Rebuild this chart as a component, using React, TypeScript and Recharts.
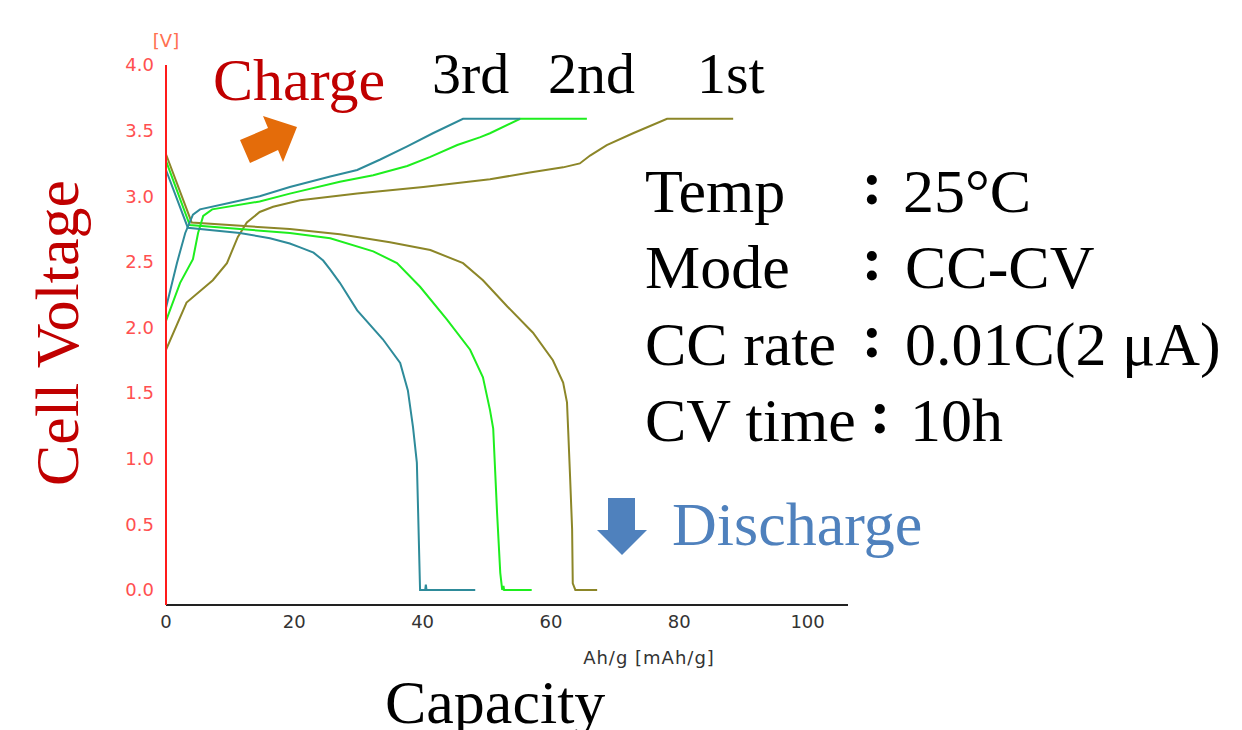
import React from 'react';
import { LineChart, Line, XAxis, YAxis } from 'recharts';

// ---- data (capacity mAh/g, voltage V) ----
const xTicks = [0, 20, 40, 60, 80, 100];
const yTicks = [0, 0.5, 1, 1.5, 2, 2.5, 3, 3.5, 4];

const charge3rd: [number, number][] = [
  [0, 2.15], [1.7, 2.49], [3.0, 2.72], [4.2, 2.86], [5.3, 2.9], [10, 2.95], [14.6, 3.0],
  [19.3, 3.07], [25.6, 3.15], [29.8, 3.2], [33.4, 3.28], [37.6, 3.38], [41.6, 3.48],
  [46.3, 3.59], [55.2, 3.59],
];
const charge2nd: [number, number][] = [
  [0, 2.05], [2.2, 2.34], [4.2, 2.52], [5.0, 2.72], [5.8, 2.85], [7.2, 2.9], [14.6, 2.96],
  [19.3, 3.02], [27.1, 3.11], [32.3, 3.16], [37.6, 3.23], [41.2, 3.3], [45.4, 3.39],
  [49.0, 3.45], [50.5, 3.48], [55.2, 3.59], [65.6, 3.59],
];
const charge1st: [number, number][] = [
  [0, 1.83], [3.2, 2.19], [7.3, 2.36], [9.5, 2.49], [11.2, 2.69], [12.6, 2.8], [14.6, 2.88],
  [16.7, 2.92], [20.9, 2.97], [29.8, 3.02], [40.1, 3.07], [50.5, 3.13], [56.7, 3.18],
  [61.9, 3.22], [64.5, 3.25], [66.1, 3.31], [68.7, 3.39], [72.8, 3.48], [78.1, 3.59], [88.4, 3.59],
];
const discharge3rd: [number, number][] = [
  [0, 3.2], [3.4, 2.76], [11.5, 2.72], [16.2, 2.68], [19.3, 2.64], [20.9, 2.61], [23.0, 2.57],
  [24.5, 2.51], [25.6, 2.44], [27.1, 2.34], [29.8, 2.13], [33.8, 1.91], [36.5, 1.73],
  [37.7, 1.52], [38.5, 1.24], [39.1, 0.97], [39.3, 0.59], [39.6, 0.0], [40.4, 0.0],
  [40.5, 0.04], [40.6, 0.0], [48.2, 0.0],
];
const discharge2nd: [number, number][] = [
  [0, 3.27], [3.7, 2.78], [11.5, 2.75], [19.3, 2.72], [25.6, 2.68], [32.3, 2.58], [36.0, 2.49],
  [39.6, 2.31], [43.8, 2.06], [47.4, 1.83], [49.4, 1.62], [50.5, 1.37], [51.0, 1.23],
  [51.3, 0.91], [51.6, 0.59], [52.1, 0.13], [52.4, 0.0], [52.6, 0.03], [52.7, 0.0], [57.0, 0.0],
];
const discharge1st: [number, number][] = [
  [0, 3.32], [4.0, 2.8], [19.3, 2.75], [27.1, 2.71], [34.9, 2.65], [41.2, 2.59], [46.3, 2.49],
  [49.4, 2.36], [53.2, 2.16], [57.2, 1.96], [60.3, 1.75], [61.9, 1.58], [62.5, 1.43],
  [62.7, 1.2], [63.0, 0.84], [63.3, 0.46], [63.4, 0.05], [63.8, 0.0], [67.2, 0.0],
];

const TEAL = '#2e8b9a';
const GREEN = '#1eee1e';
const OLIVE = '#8c8628';

const toPts = (arr: [number, number][]) => arr.map(([x, v]) => ({ x, v }));

const series = [
  { key: 'd1', data: toPts(discharge1st), color: OLIVE },
  { key: 'c1', data: toPts(charge1st), color: OLIVE },
  { key: 'd2', data: toPts(discharge2nd), color: GREEN },
  { key: 'c2', data: toPts(charge2nd), color: GREEN },
  { key: 'd3', data: toPts(discharge3rd), color: TEAL },
  { key: 'c3', data: toPts(charge3rd), color: TEAL },
];

const serif = '"Liberation Serif", "Times New Roman", serif';
const sans = '"DejaVu Sans", Verdana, sans-serif';

const infoRows = [
  { label: 'Temp', value: '25°C', y: 212, cx: 872, vx: 903 },
  { label: 'Mode', value: 'CC-CV', y: 288, cx: 872, vx: 905 },
  { label: 'CC rate', value: '0.01C(2 μA)', y: 365, cx: 872, vx: 905 },
  { label: 'CV time', value: '10h', y: 441, cx: 880, vx: 910 },
];

export default function App() {
  return (
    <div style={{ position: 'absolute', left: 0, top: 0, width: 1242, height: 730, background: '#fff' }}>
      <div style={{ position: 'absolute', left: 0, top: 0 }}>
        <LineChart width={1242} height={730} margin={{ top: 65, right: 394, bottom: 95, left: 0 }}>
          <XAxis
            dataKey="x"
            type="number"
            domain={[0, 106.3]}
            ticks={xTicks}
            allowDataOverflow
            height={30}
            tickLine={false}
            tickMargin={4}
            axisLine={{ stroke: '#222', strokeWidth: 2 }}
            tick={{ fill: '#333', fontSize: 18, fontFamily: sans }}
          />
          <YAxis
            dataKey="v"
            type="number"
            domain={[-0.115, 4.0]}
            ticks={yTicks}
            allowDataOverflow
            width={166}
            tickLine={false}
            tickMargin={6}
            tickFormatter={(v: number) => v.toFixed(1)}
            axisLine={{ stroke: '#ff1a1a', strokeWidth: 2 }}
            tick={{ fill: '#ff5050', fontSize: 18, fontFamily: sans }}
          />
          {series.map((s) => (
            <Line
              key={s.key}
              data={s.data}
              dataKey="v"
              type="linear"
              stroke={s.color}
              strokeWidth={2}
              dot={false}
              isAnimationActive={false}
            />
          ))}
        </LineChart>
      </div>
      <svg
        width={1242}
        height={730}
        style={{ position: 'absolute', left: 0, top: 0, pointerEvents: 'none' }}
      >
        <text x={166} y={47} textAnchor="middle" fontFamily={sans} fontSize={18} fill="#ff7050">[V]</text>
        <text x={649} y={664} textAnchor="middle" fontFamily={sans} fontSize={18} letterSpacing={1} fill="#333">Ah/g [mAh/g]</text>

        <text x={213} y={100} fontFamily={serif} fontSize={60} fill="#c00000">Charge</text>
        <polygon points="240,140 268,128 263,116 297,127 283,162 278,150 250,163" fill="#e46c0a" />

        <text x={432} y={93} fontFamily={serif} fontSize={58} fill="#000">3rd</text>
        <text x={548} y={93} fontFamily={serif} fontSize={58} fill="#000">2nd</text>
        <text x={697} y={93} fontFamily={serif} fontSize={58} fill="#000">1st</text>

        {infoRows.map((r) => (
          <g key={r.label}>
            <text x={645} y={r.y} fontFamily={serif} fontSize={62} fill="#000">{r.label}</text>
            <text x={r.cx} y={r.y - 8} textAnchor="middle" fontFamily={serif} fontWeight="bold" fontSize={62} fill="#000">:</text>
            <text x={r.vx} y={r.y} fontFamily={serif} fontSize={62} fill="#000">{r.value}</text>
          </g>
        ))}

        <polygon points="608,498 635,498 635,530 647,530 622,555 597,530 608,530" fill="#4f81bd" />
        <text x={672} y={545} fontFamily={serif} fontSize={62} fill="#4f81bd">Discharge</text>

        <text
          transform="translate(78,333) rotate(-90)"
          x={0}
          y={0}
          textAnchor="middle"
          fontFamily={serif}
          fontSize={62}
          fill="#c00000"
        >
          Cell Voltage
        </text>
        <text x={385} y={723} fontFamily={serif} fontSize={62} fill="#000">Capacity</text>
      </svg>
    </div>
  );
}
